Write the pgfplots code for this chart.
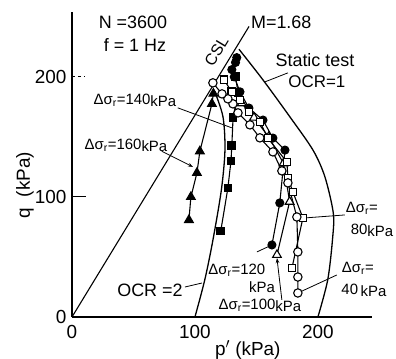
\documentclass[border=0pt]{standalone}
\usepackage{pgfplots}
\pgfplotsset{compat=1.18}
\usetikzlibrary{arrows.meta}
\usepackage{fontspec}
\setmainfont{Liberation Sans}
\newcommand{\ds}{Δσ\textsubscript{r}}
\newcommand{\fs}[1]{\fontsize{#1}{#1}\selectfont}
\begin{document}
\begin{tikzpicture}
\useasboundingbox (0,0) rectangle (396bp,359bp);
\begin{axis}[at={(72bp,42bp)}, anchor=south west,
  width=300bp, height=305bp, scale only axis,
  xmin=0, xmax=244, ymin=0, ymax=254,
  axis lines*=left,
  axis line style={line width=1.8bp},
  xtick={0,100,200}, ytick={0,100,200},
  tick align=inside, major tick length=0bp,
  tick label style={font=\fs{19}},
  xticklabel style={yshift=-5bp},
  yticklabel style={xshift=-2bp},
  /pgf/number format/assume math mode=true,
  clip=false]
% reference lines
\addplot[line width=1.1bp] coordinates {(0,0) (144,242)};
\addplot[line width=1.3bp, smooth] coordinates {(100,0) (108,31) (114.6,64) (121.5,106) (124.4,139) (122.8,166.7) (116,188)};
\addplot[line width=1.3bp, smooth] coordinates {(200,0) (208,31) (212,66) (212.5,86.7) (205.7,116.7) (196,139) (177.2,166.7) (155.3,197.5) (135.8,223)};
% filled triangles (160 kPa)
\addplot[line width=1.1bp, mark=triangle*, mark size=5bp, mark options={fill=black}] coordinates {(95.1,80.8) (96.7,100) (101.6,120) (104,138) (113.8,177.5) (115,186)};
% filled squares (140 kPa)
\addplot[line width=1.1bp, mark=square*, mark size=3.8bp, mark options={fill=black}] coordinates {(121,71.7) (126.8,107.5) (129.3,130) (130,143) (131,166) (135,187) (133,200)};
% filled circles (120 kPa)
\addplot[line width=1.1bp, mark=*, mark size=4bp, mark options={fill=black}] coordinates {(162.6,60) (169,95) (173.2,139) (163.4,149) (155.3,164) (143.9,174) (136.6,187.5) (132,200) (130,206) (133,212) (134,216)};
% open triangles (100 kPa)
\addplot[line width=1.1bp, mark=triangle*, mark size=5bp, mark options={fill=white}] coordinates {(166.7,51.7) (177,96) (172,128) (160,150) (148,166) (138,178)};
% open squares (80 kPa)
\addplot[line width=1.1bp, mark=square*, mark size=3.8bp, mark options={fill=white}] coordinates {(178.9,40.8) (187.8,82.5) (179.7,104) (175.6,115.8) (174.8,129) (159.3,149) (152.8,162.5) (143.9,170.8) (136.6,180.8) (130,187.5) (123.6,197.5)};
% open circles (40 kPa)
\addplot[line width=1.1bp, mark=*, mark size=4.2bp, mark options={fill=white}] coordinates {(183.7,20) (183.7,33.3) (183.7,54.2) (182.9,83.3) (175.6,111.7) (170.7,121.7) (163.4,137.5) (152.8,149.2) (144.7,160) (135,170) (130.9,177.5) (126.8,181.7) (122,185.8) (114.6,195)};
% y ticks
\draw[line width=1bp] (axis cs:0,100) -- ++(14bp,0);
\draw[line width=1bp, dashed] (axis cs:0,200) -- ++(13bp,0);
% labels
\node[font=\fs{19}, rotate=90] at (axis cs:-38.2,110) {q\ \ (kPa)};
\node[font=\fs{19}] at (axis cs:143,-27.5) {p$^{\prime}$ (kPa)};
\node[font=\fs{18}] at (axis cs:49.6,245.8) {N =3600};
\node[font=\fs{18}] at (axis cs:51.2,226.7) {f = 1 Hz};
\node[font=\fs{18}, anchor=west, inner sep=0pt] at (axis cs:145.5,245.8) {M=1.68};
\node[font=\fs{16}, rotate=59, inner sep=0pt] at (axis cs:117.5,221.5) {CSL};
\node[font=\fs{18}] at (axis cs:197.6,214) {Static test};
\node[font=\fs{17}] at (axis cs:199.2,195.8) {OCR=1};
\draw[line width=0.8bp] (axis cs:175.6,203.3) -- (axis cs:156.9,195.8);
\node[font=\fs{15}] at (axis cs:51.2,180.8) {\ds=140\raisebox{-2pt}{kPa}};
\draw[line width=0.8bp] (axis cs:86,174.2) -- (axis cs:130,157.5);
\node[font=\fs{15}] at (axis cs:43.9,143.3) {\ds=160\raisebox{-2pt}{kPa}};
\draw[line width=0.8bp, -{Stealth[length=5bp]}] (axis cs:73,138) -- (axis cs:98.4,125);
\node[font=\fs{18}] at (axis cs:63.4,22.5) {OCR =2};
\draw[line width=0.8bp] (axis cs:91.9,25) -- (axis cs:105.7,28.3);
\node[font=\fs{15}] at (axis cs:134.1,39.2) {\ds =120};
\node[font=\fs{15}] at (axis cs:154.5,25) {kPa};
\draw[line width=0.8bp] (axis cs:150.4,54.2) -- (axis cs:162.6,60);
\node[font=\fs{15}] at (axis cs:152.8,10) {\ds=100\raisebox{-2pt}{kPa}};
\draw[line width=0.8bp, -{Stealth[length=5bp]}] (axis cs:170.7,14.2) -- (axis cs:166.7,49);
\node[font=\fs{15}] at (axis cs:235.8,90.8) {\ds =};
\node[font=\fs{15}] at (axis cs:244,72.5) {80\raisebox{-2pt}{kPa}};
\draw[line width=0.8bp] (axis cs:222,85) -- (axis cs:189.4,82.5);
\node[font=\fs{15}] at (axis cs:232.5,40.8) {\ds =};
\node[font=\fs{15}] at (axis cs:237.4,22.5) {40\,\raisebox{-2pt}{kPa}};
\draw[line width=0.8bp] (axis cs:215.4,35) -- (axis cs:185.4,20.8);
\end{axis}
\end{tikzpicture}
\end{document}
